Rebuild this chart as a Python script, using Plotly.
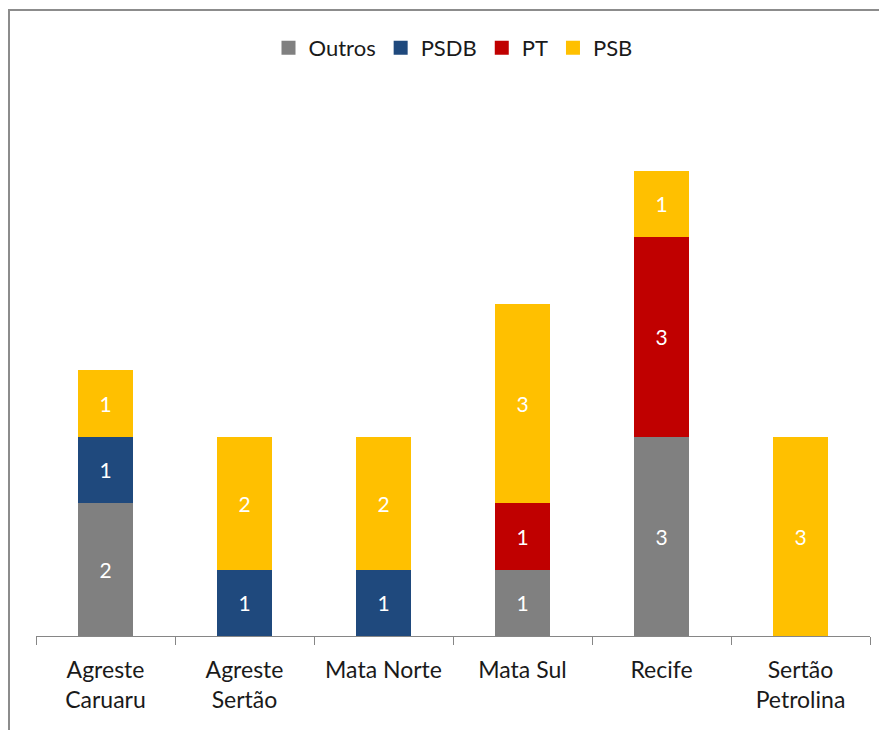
import plotly.graph_objects as go

categories = ["Agreste<br>Caruaru", "Agreste<br>Sertão", "Mata Norte", "Mata Sul", "Recife", "Sertão<br>Petrolina"]
outros = [2, 0, 0, 1, 3, 0]
psdb = [1, 1, 1, 0, 0, 0]
pt = [0, 0, 0, 1, 3, 0]
psb = [1, 2, 2, 3, 1, 3]

series = [
    ("Outros", outros, "#808080"),
    ("PSDB", psdb, "#1F497D"),
    ("PT", pt, "#C00000"),
    ("PSB", psb, "#FFC000"),
]

FONT = "Lato, 'Open Sans', sans-serif"

fig = go.Figure()
for name, vals, color in series:
    fig.add_trace(go.Bar(
        name=name, x=categories, y=vals,
        marker=dict(color=color, line=dict(width=0)),
        text=[str(v) if v else "" for v in vals],
        textposition="inside", insidetextanchor="middle",
        textfont=dict(color="white", size=21, family=FONT),
        width=0.4, showlegend=False, legendgroup=name,
    ))
# legend entries with larger square swatches
for name, vals, color in series:
    fig.add_trace(go.Scatter(
        name=name, x=[categories[0]], y=[None], mode="markers",
        marker=dict(symbol="square", size=14, color=color),
        legendgroup=name, showlegend=True, hoverinfo="skip",
    ))

# page has 8px body margin; figure sits at (8, 8)
W, H = 879, 722
L, R, T, B = 28, 17, 96, 94
pw, ph = W - L - R, H - T - B

def px_x(x):
    return (x - L) / pw

def px_y(y):
    return (H - B - y) / ph

fig.update_layout(
    width=W, height=H,
    barmode="stack",
    plot_bgcolor="white", paper_bgcolor="white",
    margin=dict(l=L, r=R, t=T, b=B, pad=0),
    font=dict(family=FONT, size=22, color="#1a1a1a"),
    showlegend=True,
    legend=dict(orientation="h", x=0.5, xanchor="center", y=px_y(40), yanchor="middle",
                font=dict(size=22), traceorder="normal", itemwidth=30),
    uniformtext=dict(mode="show", minsize=21),
    xaxis=dict(showline=True, linecolor="#868686", linewidth=1,
               ticks="outside", tickson="boundaries", ticklen=8, tickcolor="#868686",
               showgrid=False, tickfont=dict(size=23, color="#1a1a1a"),
               ticklabelstandoff=13),
    yaxis=dict(range=[0, 8], visible=False, showgrid=False),
    shapes=[
        dict(type="line", xref="paper", yref="paper",
             x0=px_x(0), x1=px_x(W + 5), y0=px_y(2), y1=px_y(2),
             line=dict(color="#8c8c8c", width=2)),
        dict(type="line", xref="paper", yref="paper",
             x0=px_x(1), x1=px_x(1), y0=px_y(1), y1=px_y(H + 5),
             line=dict(color="#8c8c8c", width=2)),
    ],
)

fig.write_html("out.html")
